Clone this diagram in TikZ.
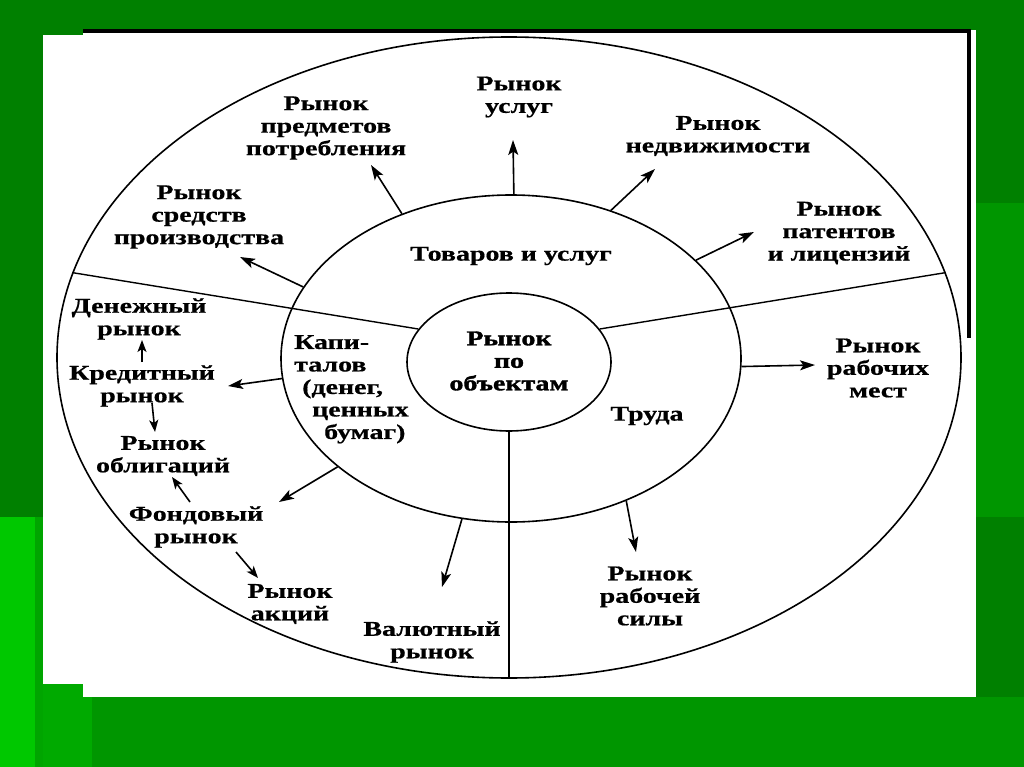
\documentclass[tikz,border=0pt]{standalone}
\usepackage{fontspec}
\setmainfont{Liberation Serif}[FakeStretch=1.33]
\usetikzlibrary{shapes.geometric,arrows.meta}
\definecolor{bgdark}{RGB}{0,128,0}
\definecolor{bgmid}{RGB}{0,150,0}
\definecolor{bglight}{RGB}{0,200,0}
\definecolor{bgedge}{RGB}{0,165,0}
\definecolor{bgbottom}{RGB}{0,170,0}
\begin{document}
\begin{tikzpicture}[x=1pt,y=-1pt,
  ell/.style={draw, ellipse, line width=1.6pt, inner sep=0pt},
  divline/.style={line width=1.4pt},
  lbl/.style={font=\bfseries\fontsize{21}{22.5}\selectfont\addfontfeature{FakeBold=0.6}, align=center, inner sep=0pt},
  arr/.style={-{Stealth[length=15pt,width=10pt,inset=3.5pt]}, line width=1.6pt},
  sarr/.style={-{Stealth[length=12pt,width=9pt,inset=3pt]}, line width=1.6pt}]
\useasboundingbox (0,0) rectangle (1024,767);
% background
\fill[bgdark] (0,0) rectangle (1024,767);
\fill[bglight] (0,517) rectangle (35,767);
\fill[bgedge] (35,517) rectangle (43,767);
\fill[bgbottom] (43,684) rectangle (92,767);
\fill[bgmid] (92,697) rectangle (1024,767);
\fill[bgmid] (976,203) rectangle (1024,517);
% paper
\fill[white] (43,35) rectangle (976,684);
\fill[white] (83,30) rectangle (976,697);
\fill[black] (83,29) rectangle (971,33);
\fill[black] (967,29) rectangle (971,338);
% ellipses
\node[ell, minimum width=904pt, minimum height=641pt] (outer) at (509,357.5) {};
\node[ell, minimum width=460pt, minimum height=327pt] (mid) at (511,358.5) {};
\node[ell, minimum width=204pt, minimum height=138pt] (inner) at (509,362) {};
% dividers
\draw[divline] (inner.160) -- (outer.169);
\draw[divline] (inner.20) -- (outer.11);
\draw[divline] (inner.south) -- (outer.south);
% labels
\node[lbl] (uslug) at (519,97) {Рынок\\услуг};
\node[lbl] (predm) at (326,128) {Рынок\\предметов\\потребления};
\node[lbl] (nedv) at (718,136) {Рынок\\недвижимости};
\node[lbl] (sredstv) at (199,217) {Рынок\\средств\\производства};
\node[lbl] (patent) at (839,233) {Рынок\\патентов\\и лицензий};
\node[lbl] (tovar) at (511,256) {Товаров и услуг};
\node[lbl, font=\bfseries\fontsize{21}{22.5}\selectfont\addfontfeature{FakeBold=1.6}] (centre) at (509,361) {Рынок\\по\\объектам};
\node[lbl, align=left, anchor=north west] (kapit) at (294,335) {Капи-\\талов\\\hspace*{8pt}(денег,\\\hspace*{18pt}ценных\\\hspace*{30pt}бумаг)};
\node[lbl] (truda) at (647,416) {Труда};
\node[lbl] (rabmest) at (878,368) {Рынок\\рабочих\\мест};
\node[lbl] (rabsil) at (650,596) {Рынок\\рабочей\\силы};
\node[lbl] (valut) at (432,642) {Валютный\\рынок};
\node[lbl] (akc) at (290,604) {Рынок\\акций};
\node[lbl] (fond) at (196,527) {Фондовый\\рынок};
\node[lbl] (obl) at (163,456) {Рынок\\облигаций};
\node[lbl] (kred) at (142,386) {Кредитный\\рынок};
\node[lbl] (den) at (139,319) {Денежный\\рынок};
% arrow tips
\coordinate (tUslug) at (513,140);
\coordinate (tNedv) at (655,169);
\coordinate (tPredm) at (371,165);
\coordinate (tSredstv) at (240,257);
\coordinate (tPatent) at (754,232);
\coordinate (tRabmest) at (815,365);
\coordinate (tRabsil) at (636,552);
\coordinate (tValut) at (442,587);
\coordinate (tKred) at (228,386);
\coordinate (tFond) at (279,502);
\draw[arr] (mid.89) -- (tUslug);
\draw[arr] (mid.56) -- (tNedv);
\draw[arr] (mid.127) -- (tPredm);
\draw[arr] (mid.161) -- (tSredstv);
\draw[arr] (mid.28) -- (tPatent);
\draw[arr] (mid.358) -- (tRabmest);
\draw[arr] (mid.309) -- (tRabsil);
\draw[arr] (mid.253) -- (tValut);
\draw[arr] (mid.185) -- (tKred);
\draw[arr] (mid.212) -- (tFond);
% chain arrows
\coordinate (sDen) at (142,362);
\coordinate (eDen) at (142,340);
\coordinate (sObl) at (152,403);
\coordinate (eObl) at (155,432);
\coordinate (sFo) at (190,502);
\coordinate (eFo) at (172,477);
\coordinate (sAk) at (236,552);
\coordinate (eAk) at (258,578);
\draw[sarr] (sDen) -- (eDen);
\draw[sarr] (sObl) -- (eObl);
\draw[sarr] (sFo) -- (eFo);
\draw[sarr] (sAk) -- (eAk);
\end{tikzpicture}
\end{document}
